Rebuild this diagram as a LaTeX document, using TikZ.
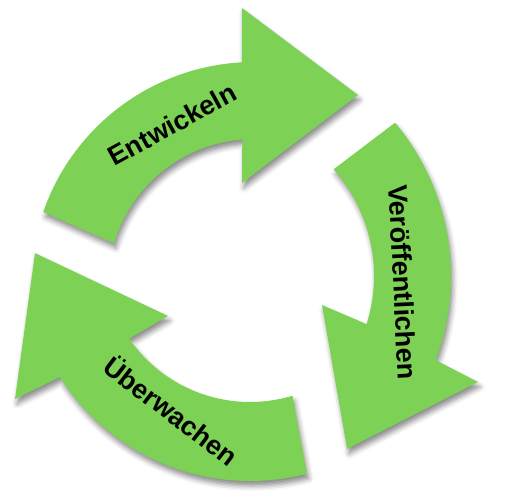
\documentclass[tikz,border=0pt]{standalone}
\usepackage{fontspec}
\setmainfont{Liberation Sans}
\usepackage{tikz}
\usetikzlibrary{shadows.blur}
\definecolor{leaf}{RGB}{125,209,85}
\tikzset{a/.style={fill=leaf, blur shadow={shadow xshift=2pt, shadow yshift=-5pt, shadow blur radius=5pt, shadow opacity=45}}}
\tikzset{l/.style={font=\bfseries\fontsize{27}{27}\selectfont, anchor=base, inner sep=0pt}}

\begin{document}
\begin{tikzpicture}[x=1pt,y=-1pt]
        \useasboundingbox (0,0) rectangle (505,500);
        % top arrow
        \fill[a, shift={(254,285)}] (199.1:223) arc[start angle=199.1, end angle=266.9, radius=223]
          -- (267.5:277.3) -- (298.7:216.6) -- (263.3:102.7) -- (265.4:146)
          arc[start angle=265.4, end angle=196.6, radius=146] -- cycle;
        % right arrow
        \fill[a, shift={(213,276)}] (319.9:238) arc[start angle=319.9, end angle=380.7, radius=238]
          -- (21.8:285.4) -- (52.2:218.8) -- (14.9:112.8) -- (377.4:161)
          arc[start angle=377.4, end angle=318.5, radius=161] -- cycle;
        % bottom arrow
        \fill[a, shift={(250,255)}] (75.4:226) arc[start angle=75.4, end angle=147.3, radius=226]
          -- (148.5:275.6) -- (180.5:215) -- (143.4:102.2) -- (145.3:147)
          arc[start angle=145.3, end angle=73.2, radius=147] -- cycle;
        \node[l, rotate=28.7] (Ent) at (176.7,132.9) {Entwickeln};
        \node[l, rotate=-87.3] (Ver) at (393.5,282.5) {Veröffentlichen};
        \node[l, rotate=-37.5] (Ueb) at (165,419) {Überwachen};
      \end{tikzpicture}
\end{document}
